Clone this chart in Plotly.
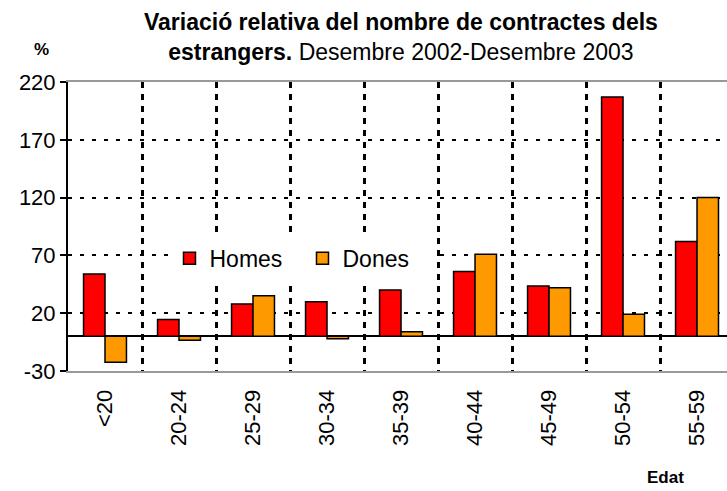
import plotly.graph_objects as go

# Age groups and relative change (%) Dec 2002 - Dec 2003
edats = ['<20', '20-24', '25-29', '30-34', '35-39', '40-44', '45-49', '50-54', '55-59']
homes = [54, 14.5, 28, 30, 40, 56, 43.5, 207, 82]
dones = [-22.5, -3.5, 35, -2, 4, 71, 42, 19, 120]
y_ticks = [-30, 20, 70, 120, 170, 220]
y_labels = ['-30', '20', '70', '120', '170', '220']

FONT = 'Liberation Sans, Arial, sans-serif'

fig = go.Figure()
fig.add_trace(go.Bar(x=edats, y=homes, name='Homes',
                     marker=dict(color='#FF0000', line=dict(color='black', width=1.5))))
fig.add_trace(go.Bar(x=edats, y=dones, name='Dones',
                     marker=dict(color='#FF9900', line=dict(color='black', width=1.5))))

fig.update_layout(
    width=727, height=491,
    margin=dict(l=68, r=0, t=82, b=120),
    plot_bgcolor='white', paper_bgcolor='white',
    font=dict(family=FONT, color='black', size=22),
    barmode='group', bargap=0.42, bargroupgap=0,
    legend=dict(orientation='h', x=0.154, xanchor='left', y=0.39, yanchor='middle',
                bgcolor='white', font=dict(size=23), itemwidth=30,
                entrywidth=88, entrywidthmode='pixels'),
    showlegend=True,
)

fig.update_xaxes(
    type='category', tickangle=-90, ticks='', tickson='boundaries',
    range=[-0.5, 8.405],
    showgrid=True, gridcolor='black', gridwidth=3, griddash='6px,6px',
    showline=True, linecolor='#999999', linewidth=2, mirror=True,
    tickfont=dict(size=22), ticklabelstandoff=8,
)
fig.update_yaxes(
    range=[-30, 220], tickvals=y_ticks, ticktext=y_labels,
    ticks='outside', ticklen=6, tickcolor='black', tickwidth=2,
    showgrid=True, gridcolor='black', gridwidth=2, griddash='4px,8px',
    showline=True, linecolor='black', linewidth=2,
    zeroline=True, zerolinecolor='black', zerolinewidth=1.5,
    tickfont=dict(size=22),
)

# title as an annotation so both lines stay inside the page
fig.add_annotation(text='<b>Variació relativa del nombre de contractes dels</b><br>'
                        '<b>estrangers.</b> Desembre 2002-Desembre 2003',
                   x=0.505, y=1.155, xref='paper', yref='paper',
                   xanchor='center', yanchor='middle', showarrow=False,
                   font=dict(size=23))
fig.add_annotation(text='<b>%</b>', x=-0.04, y=1.111, xref='paper', yref='paper',
                   xanchor='center', yanchor='middle', showarrow=False, font=dict(size=17))
fig.add_annotation(text='<b>Edat</b>', x=0.907, y=-0.37, xref='paper', yref='paper',
                   xanchor='center', yanchor='middle', showarrow=False, font=dict(size=17))

fig.write_html('out.html', config={'displayModeBar': False},
               post_script="document.body.style.margin='0px';")
